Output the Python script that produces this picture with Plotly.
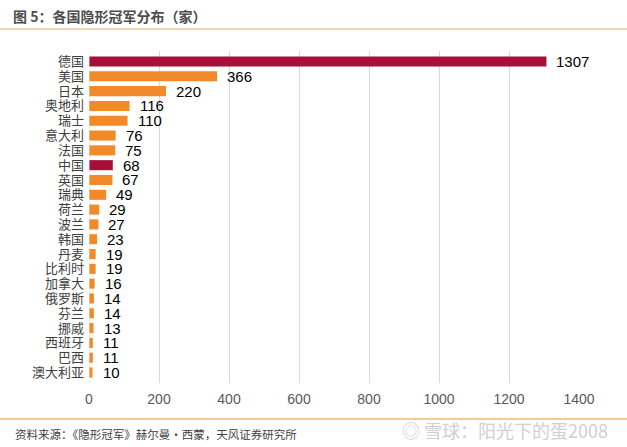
import plotly.graph_objects as go

countries = ["德国", "美国", "日本", "奥地利", "瑞士", "意大利", "法国", "中国", "英国", "瑞典",
             "荷兰", "波兰", "韩国", "丹麦", "比利时", "加拿大", "俄罗斯", "芬兰", "挪威", "西班牙",
             "巴西", "澳大利亚"]
counts = [1307, 366, 220, 116, 110, 76, 75, 68, 67, 49,
          29, 27, 23, 19, 19, 16, 14, 14, 13, 11,
          11, 10]
highlight = {"德国", "中国"}
colors = ["#A50F38" if c in highlight else "#F28A2A" for c in countries]
x_ticks = [0, 200, 400, 600, 800, 1000, 1200, 1400]

W, H = 627, 447
L, R, T, B = 89, 48, 51, 64
pw, ph = W - L - R, H - T - B

def px(xp):
    return (xp - L) / pw

def py(yp):
    return (H - B - yp) / ph

fig = go.Figure(go.Bar(
    x=counts, y=countries, orientation="h",
    marker=dict(color=colors, line=dict(width=0)),
    width=0.68,
))

for c, v in zip(countries, counts):
    fig.add_annotation(x=v, y=c, xref="x", yref="y", text=str(v), showarrow=False,
                       xanchor="left", yanchor="middle", xshift=8,
                       font=dict(size=15, color="#000000", family="Liberation Sans, Arial"))

fig.update_layout(
    width=W, height=H, margin=dict(l=L, r=R, t=T, b=B),
    paper_bgcolor="white", plot_bgcolor="white",
    showlegend=False,
    font=dict(family="Noto Sans CJK SC, Liberation Sans, Arial", color="#404040"),
    xaxis=dict(range=[0, 1400], tickvals=x_ticks, showgrid=True, gridcolor="#D9D9D9",
               gridwidth=1, zeroline=False, showline=False, ticks="", ticklabelstandoff=6,
               tickfont=dict(size=14, color="#595959", family="Liberation Sans, Arial")),
    yaxis=dict(autorange="reversed", tickmode="array", tickvals=countries, ticktext=countries,
               showgrid=False, zeroline=False, showline=False,
               ticks="", ticklabelstandoff=4,
               tickfont=dict(size=13, color="#404040", family="Noto Sans CJK SC")),
)

# vertical axis line at 0 (light)
fig.add_shape(type="line", xref="x", yref="paper", x0=0, x1=0, y0=0, y1=1,
              line=dict(color="#D9D9D9", width=1))

# header and footer lines
fig.add_shape(type="line", xref="paper", yref="paper", x0=px(0), x1=px(W), y0=py(29), y1=py(29),
              line=dict(color="#F2C9A0", width=1.5))
fig.add_shape(type="line", xref="paper", yref="paper", x0=px(0), x1=px(W), y0=py(419), y1=py(419),
              line=dict(color="#F2C9A0", width=2))

fig.add_annotation(xref="paper", yref="paper", x=px(11), y=py(16), xanchor="left", yanchor="middle",
                   text="<b>图 5：各国隐形冠军分布（家）</b>", showarrow=False,
                   font=dict(size=14, color="#4D4D4D", family="Noto Sans CJK SC"))
fig.add_annotation(xref="paper", yref="paper", x=px(13), y=py(434), xanchor="left", yanchor="middle",
                   text="资料来源：《隐形冠军》赫尔曼·西蒙，天风证券研究所", showarrow=False,
                   font=dict(size=11.5, color="#404040", family="Noto Sans CJK SC"))
fig.add_annotation(xref="paper", yref="paper", x=px(610), y=py(430), xanchor="right", yanchor="middle",
                   text="◎ 雪球：阳光下的蛋2008", showarrow=False,
                   font=dict(size=18, color="#D0D0D0", family="Noto Sans CJK SC"))

fig.write_html("out.html")
